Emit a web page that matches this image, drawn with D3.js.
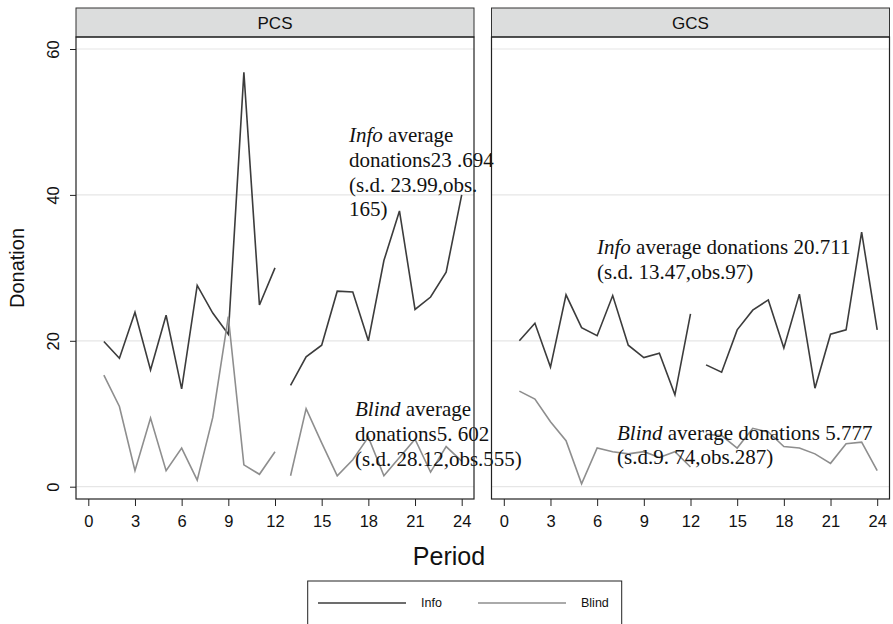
<!DOCTYPE html>
<html><head><meta charset="utf-8">
<script src="https://cdn.jsdelivr.net/npm/d3@7"></script>
<style>body{margin:0;background:#fff}svg{display:block}</style>
</head><body>
<svg id="c" width="893" height="624"></svg>
<script>
const periods = d3.range(1, 25);
const panels = ["PCS", "GCS"];
const xTicks = [0, 3, 6, 9, 12, 15, 18, 21, 24];
const yTicks = [0, 20, 40, 60];
// values per period (gap between period 12 and 13)
const pcsInfo  = [19.9,17.6,23.9,16.0,23.5,13.4,27.6,23.8,20.9,56.8,24.9,30.0, 13.9,17.8,19.4,26.8,26.7,20.0,31.0,37.8,24.3,26.0,29.4,40.0];
const pcsBlind = [15.3,11.0,2.2,9.4,2.2,5.3,0.9,9.5,23.3,3.0,1.7,4.8, 1.5,10.7,6.0,1.5,3.7,6.8,1.5,4.0,6.5,2.0,5.5,3.5];
const gcsInfo  = [20.0,22.4,16.4,26.3,21.8,20.7,26.2,19.4,17.7,18.3,12.6,23.7, 16.7,15.7,21.5,24.2,25.6,19.0,26.4,13.5,20.9,21.5,34.9,21.5];
const gcsBlind = [13.1,12.0,8.9,6.3,0.4,5.3,4.8,4.5,4.8,4.0,4.8,2.7, 7.2,7.0,5.3,8.0,7.5,5.5,5.3,4.5,3.2,5.9,6.1,2.2];
const seriesNames = ["Info", "Blind"];
const seriesColors = ["#3c3c3c", "#8e8e8e"];
const annotations = {
  PCS: [
    [[["Info", true], [" average", false]], [["donations23 .694", false]], [["(s.d. 23.99,obs.", false]], [["165)", false]]],
    [[["Blind", true], [" average", false]], [["donations5. 602", false]], [["(s.d. 28.12,obs.555)", false]]]
  ],
  GCS: [
    [[["Info", true], [" average donations 20.711", false]], [["(s.d. 13.47,obs.97)", false]]],
    [[["Blind", true], [" average donations 5.777", false]], [["(s.d.9. 74,obs.287)", false]]]
  ]
};
const annPos = {
  PCS: [{x: 349, y: 142, dy: 24.8}, {x: 355, y: 416, dy: 25}],
  GCS: [{x: 597, y: 254, dy: 25}, {x: 617, y: 440, dy: 24}]
};
const data = {PCS: [pcsInfo, pcsBlind], GCS: [gcsInfo, gcsBlind]};

const svg = d3.select("#c");
const panelX = [[76, 474], [491.5, 889.5]];
const plotTop = 37, plotBottom = 499, stripTop = 8;
const y = d3.scaleLinear().domain([0, 60]).range([486.7, 49]);
const sans = "'Liberation Sans', Arial, sans-serif";
const serif = "'Liberation Serif', 'Times New Roman', serif";

panels.forEach((p, i) => {
  const [x0, x1] = panelX[i];
  const x = d3.scaleLinear().domain([0, 24]).range([x0 + 12.3, x1 - 12.3]);
  const g = svg.append("g");
  g.selectAll("line.grid").data(yTicks).join("line")
    .attr("x1", x0).attr("x2", x1).attr("y1", d => y(d)).attr("y2", d => y(d))
    .attr("stroke", "#e6e6e6").attr("stroke-width", 1.2);
  g.append("rect").attr("x", x0).attr("y", stripTop).attr("width", x1 - x0).attr("height", plotTop - stripTop)
    .attr("fill", "#dcdddd").attr("stroke", "#333").attr("stroke-width", 1);
  g.append("text").attr("x", (x0 + x1) / 2).attr("y", 28.5).attr("text-anchor", "middle")
    .attr("font-family", sans).attr("font-size", 17).attr("fill", "#111").text(p);
  const line = d3.line().x(d => x(d.p)).y(d => y(d.v));
  data[p].forEach((vals, si) => {
    const segs = [periods.slice(0, 12), periods.slice(12)];
    segs.forEach(seg => {
      g.append("path").datum(seg.map(pp => ({p: pp, v: vals[pp - 1]})))
        .attr("d", line).attr("fill", "none").attr("stroke", seriesColors[si])
        .attr("stroke-width", 1.6);
    });
  });
  annotations[p].forEach((lines, ai) => {
    const pos = annPos[p][ai];
    lines.forEach((parts, li) => {
      const t = g.append("text").attr("x", pos.x).attr("y", pos.y + li * pos.dy)
        .attr("font-family", serif).attr("font-size", 21).attr("fill", "#111");
      parts.forEach(([s, it]) => t.append("tspan").attr("font-style", it ? "italic" : "normal").text(s));
    });
  });
  g.append("rect").attr("x", x0).attr("y", plotTop).attr("width", x1 - x0).attr("height", plotBottom - plotTop)
    .attr("fill", "none").attr("stroke", "#222").attr("stroke-width", 1.2);
  const xa = d3.axisBottom(x).tickValues(xTicks).tickSize(7).tickPadding(9);
  const ax = g.append("g").attr("transform", `translate(0,${plotBottom})`).call(xa);
  ax.select(".domain").remove();
  ax.selectAll("line").attr("stroke", "#222");
  ax.selectAll("text").attr("font-family", sans).attr("font-size", 16.5).attr("fill", "#111");
  if (i === 0) {
    const ya = d3.axisLeft(y).tickValues(yTicks).tickSize(6).tickPadding(0);
    const ay = g.append("g").attr("transform", `translate(${x0},0)`).call(ya);
    ay.select(".domain").remove();
    ay.selectAll("line").attr("stroke", "#222");
    ay.selectAll("text").attr("font-family", sans).attr("font-size", 16.5).attr("fill", "#111")
      .attr("text-anchor", "middle").attr("dy", null)
      .attr("transform", "translate(-23,0) rotate(-90)").attr("x", 0).attr("y", 0)
      .attr("dominant-baseline", "central");
  }
});

svg.append("text").attr("x", 449).attr("y", 565).attr("text-anchor", "middle")
  .attr("font-family", sans).attr("font-size", 25).attr("fill", "#111").text("Period");
svg.append("text").attr("transform", "translate(24,268) rotate(-90)").attr("text-anchor", "middle")
  .attr("font-family", sans).attr("font-size", 20).attr("fill", "#111").text("Donation");

const lg = svg.append("g");
lg.append("rect").attr("x", 307.7).attr("y", 581).attr("width", 314).attr("height", 60)
  .attr("fill", "#fff").attr("stroke", "#222").attr("stroke-width", 1);
const legX = [318, 478];
seriesNames.forEach((s, i) => {
  lg.append("line").attr("x1", legX[i]).attr("x2", legX[i] + 88).attr("y1", 603).attr("y2", 603)
    .attr("stroke", seriesColors[i]).attr("stroke-width", 1.6);
  lg.append("text").attr("x", legX[i] + 103).attr("y", 607).attr("font-family", sans)
    .attr("font-size", 12.5).attr("fill", "#111").text(s);
});
</script>
</body></html>
